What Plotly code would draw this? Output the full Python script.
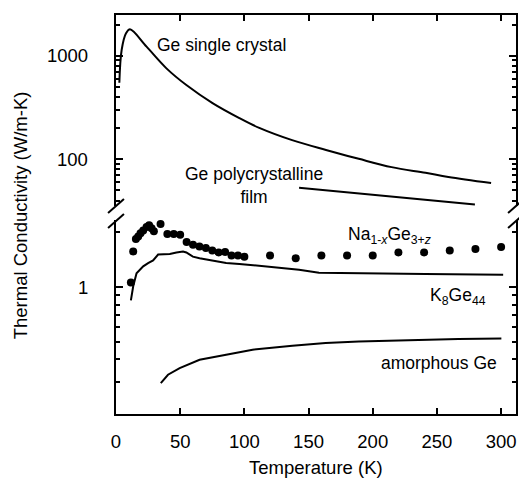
import plotly.graph_objects as go
import math

# ---------------- data ----------------
single_T = [2.6, 4.4, 7.8, 10.9, 23.8, 39.3, 54.8, 75.2, 96.1, 111.6, 137.2, 163.6, 189.1, 214.7, 241.1, 258.9, 292.2]
single_k = [548, 1135, 1645, 1800, 1222, 755, 521, 349, 250, 201, 153, 123, 101, 84, 74, 67.5, 59]

film_T = [142.6, 279.6]
film_k = [53, 36.5]

k8_T = [11.6, 13.4, 16.0, 21.2, 25.0, 28.9, 32.8, 36.7, 41.9, 47.1, 52.2, 54.8, 59.9, 65.1, 75.4, 85.8,
        96.1, 111.6, 127.1, 142.6, 158.1, 189.1, 240.9, 301.6]
k8_k = [0.844, 1.01, 1.19, 1.30, 1.355, 1.40, 1.51, 1.52, 1.52, 1.55, 1.57, 1.55, 1.47, 1.44, 1.40, 1.355,
        1.34, 1.31, 1.27, 1.245, 1.20, 1.19, 1.18, 1.17]

na_T = [11.6, 13.4, 15.5, 17.3, 19.1, 21.2, 23.8, 25.8, 27.7, 29.5, 34.7,
        40, 45, 50, 55, 60, 65, 70, 75, 80, 85, 90, 95, 100,
        120, 140, 160, 180, 200, 220, 240, 260, 280, 300]
na_k = [1.06, 1.57, 1.84, 1.90, 1.98, 2.05, 2.14, 2.19, 2.11, 2.03, 2.22,
        1.96, 1.96, 1.94, 1.77, 1.71, 1.67, 1.64, 1.59, 1.55, 1.56, 1.49, 1.49, 1.47,
        1.49, 1.44, 1.49, 1.49, 1.49, 1.55, 1.55, 1.59, 1.62, 1.66]

amor_T = [34.9, 40.5, 49.6, 65.1, 85.8, 106.4, 137.4, 163.3, 189.1, 214.9, 240.8, 266.7, 300.2]
amor_k = [0.296, 0.329, 0.358, 0.398, 0.424, 0.452, 0.475, 0.492, 0.502, 0.508, 0.513, 0.517, 0.521]

x_ticks = [0, 50, 100, 150, 200, 250, 300]
top_major = [100, 1000]
top_labels = ["100", "1000"]
top_minor = [40, 50, 60, 70, 80, 90, 200, 300, 400, 500, 600, 700, 800, 900, 2000]
bot_major = [1]
bot_labels = ["1"]
bot_minor = [0.3, 0.4, 0.5, 0.6, 0.7, 0.8, 0.9, 2]

FONT = "Arial, Liberation Sans, sans-serif"
line_style = dict(color="black", width=2)

fig = go.Figure()
fig.add_trace(go.Scatter(x=single_T, y=single_k, mode="lines", line=line_style, xaxis="x2", yaxis="y2", line_shape="spline"))
fig.add_trace(go.Scatter(x=film_T, y=film_k, mode="lines", line=line_style, xaxis="x2", yaxis="y2", cliponaxis=False))
fig.add_trace(go.Scatter(x=k8_T, y=k8_k, mode="lines", line=line_style, xaxis="x", yaxis="y"))
fig.add_trace(go.Scatter(x=amor_T, y=amor_k, mode="lines", line=line_style, xaxis="x", yaxis="y"))
fig.add_trace(go.Scatter(x=na_T, y=na_k, mode="markers", marker=dict(color="black", size=8),
                         xaxis="x", yaxis="y", cliponaxis=False))

xr = [0, 311.6]
ax_common = dict(showline=True, linecolor="black", linewidth=2, ticks="inside", tickcolor="black",
                 tickwidth=1.5, showgrid=False, zeroline=False)

fig.update_layout(
    width=519, height=481,
    margin=dict(l=116, r=1, t=15, b=67),
    paper_bgcolor="white", plot_bgcolor="white",
    showlegend=False,
    font=dict(family=FONT, size=18, color="black"),
    xaxis=dict(domain=[0, 1], range=xr, anchor="y", tickvals=x_ticks, ticklen=6,
               ticklabelstandoff=10, tickfont=dict(size=18.5, color="black"), **ax_common),
    xaxis2=dict(domain=[0, 1], range=xr, anchor="y2", side="top", tickvals=x_ticks, ticklen=6,
                showticklabels=False, matches="x", **ax_common),
    yaxis=dict(domain=[0, 0.4862], type="log", range=[math.log10(0.2), 0.369], anchor="x",
               mirror="ticks", tickvals=bot_major, ticklen=7, showticklabels=False,
               minor=dict(tickvals=bot_minor, ticks="inside", ticklen=4, tickcolor="black", tickwidth=1.5, showgrid=False),
               **ax_common),
    yaxis2=dict(domain=[0.5213, 1], type="log", range=[1.549, 3.393], anchor="x2",
                mirror="ticks", tickvals=top_major, ticklen=7, showticklabels=False,
                minor=dict(tickvals=top_minor, ticks="inside", ticklen=4, tickcolor="black", tickwidth=1.5, showgrid=False),
                **ax_common),
)

# y tick labels placed left of the axis with a wide gap, as in the reference
tick_font = dict(family=FONT, size=18.5, color="black")
label_x = (90 - 116) / 402.0
for v, t in zip(top_major, top_labels):
    fig.add_annotation(text=t, x=label_x, y=math.log10(v), xref="paper", yref="y2", showarrow=False,
                       xanchor="right", yanchor="middle", font=tick_font)
for v, t in zip(bot_major, bot_labels):
    fig.add_annotation(text=t, x=label_x, y=math.log10(v), xref="paper", yref="y", showarrow=False,
                       xanchor="right", yanchor="middle", font=tick_font)

ann_font = dict(family=FONT, size=17.5, color="black")
anns = [
    dict(text="Ge single crystal", x=82.2, y=3.103, xref="x2", yref="y2"),
    dict(text="Ge polycrystalline<br>film", x=107.8, y=1.75, xref="x2", yref="y2"),
    dict(text="Na<sub>1-<i>x</i></sub>Ge<sub>3+<i>z</i></sub>", x=213, y=0.285, xref="x", yref="y"),
    dict(text="K<sub>8</sub>Ge<sub>44</sub>", x=266.7, y=-0.05, xref="x", yref="y"),
    dict(text="amorphous Ge", x=252, y=-0.417, xref="x", yref="y"),
]
for a in anns:
    fig.add_annotation(showarrow=False, font=ann_font, xanchor="center", yanchor="middle", **a)

fig.add_annotation(text="Temperature (K)", x=0.5, y=-0.133, xref="paper", yref="paper",
                   showarrow=False, font=dict(family=FONT, size=18.5, color="black"),
                   xanchor="center", yanchor="middle")
fig.add_annotation(text="Thermal Conductivity (W/m-K)", x=-0.239, y=0.499, xref="paper", yref="paper",
                   showarrow=False, textangle=-90, font=dict(family=FONT, size=18.5, color="black"),
                   xanchor="center", yanchor="middle")

# axis break marks (decorations in paper space)
def px2paper(px, py):
    return (px - 116) / 402.0, (414 - py) / 399.0

for cx in (116, 518):
    for cy in (206, 221):
        x0, y0 = px2paper(cx - 8, cy + 7)
        x1, y1 = px2paper(cx + 8, cy - 7)
        fig.add_shape(type="line", xref="paper", yref="paper", x0=x0, y0=y0, x1=x1, y1=y1,
                      line=dict(color="black", width=2))

fig.write_html("out.html", config={"displayModeBar": False},
               post_script="document.body.style.margin='0px';")
